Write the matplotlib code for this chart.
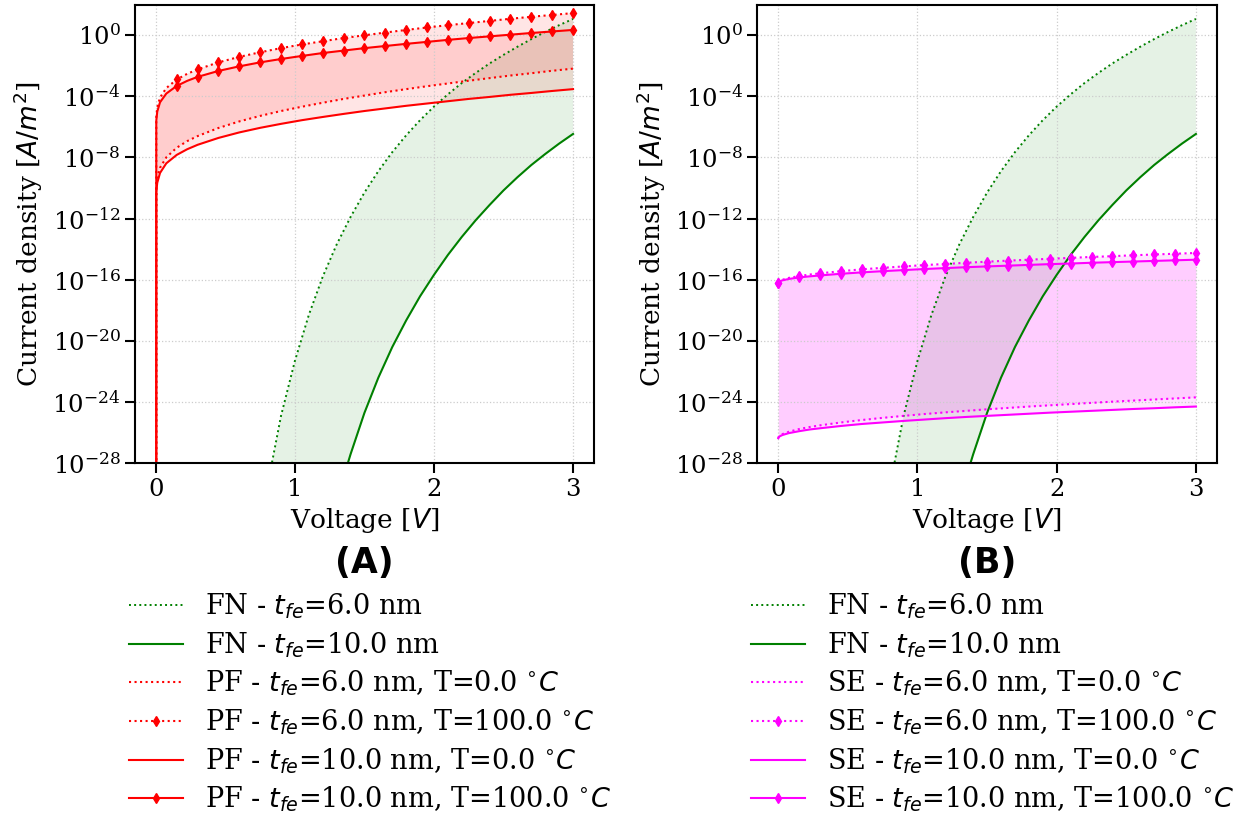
import numpy as np
import matplotlib
matplotlib.use("Agg")
import matplotlib.pyplot as plt

plt.rcParams['font.family'] = ['DejaVu Serif']
plt.rcParams['mathtext.fontset'] = 'dejavusans'

# ---------------- data (log10 of current density, A/m^2) ----------------
# voltage grid for PF / SE curves
V = [0.0, 0.003, 0.01, 0.03, 0.075, 0.15, 0.225, 0.30, 0.45, 0.60, 0.75, 0.90,
     1.05, 1.20, 1.35, 1.50, 1.65, 1.80, 1.95, 2.10, 2.25, 2.40, 2.55, 2.70,
     2.85, 3.00]

NEG = -np.inf  # J = 0 at V = 0

pf6_T0 = [NEG, -10.03, -9.37, -8.68, -8.00, -7.37, -6.94, -6.61, -6.08, -5.65,
          -5.29, -4.97, -4.69, -4.43, -4.18, -3.96, -3.74, -3.54, -3.35, -3.17,
          -2.99, -2.82, -2.65, -2.50, -2.34, -2.20]
pf6_T100 = [NEG, -5.36, -4.73, -4.09, -3.47, -2.91, -2.54, -2.25, -1.79, -1.43,
            -1.13, -0.86, -0.62, -0.41, -0.20, -0.02, 0.16, 0.33, 0.49, 0.64,
            0.78, 0.92, 1.06, 1.19, 1.31, 1.43]
pf10_T0 = [NEG, -10.28, -9.66, -9.02, -8.39, -7.84, -7.47, -7.18, -6.73, -6.37,
           -6.07, -5.81, -5.57, -5.36, -5.16, -4.97, -4.80, -4.63, -4.48, -4.33,
           -4.18, -4.05, -3.91, -3.79, -3.66, -3.54]
pf10_T100 = [NEG, -5.61, -5.01, -4.40, -3.83, -3.33, -3.00, -2.74, -2.35, -2.05,
             -1.79, -1.57, -1.37, -1.18, -1.02, -0.86, -0.72, -0.58, -0.45, -0.32,
             -0.20, -0.09, 0.02, 0.13, 0.23, 0.33]

se6_T0 = [-26.36, -26.28, -26.21, -26.09, -25.94, -25.76, -25.63, -25.52, -25.33,
          -25.17, -25.03, -24.90, -24.78, -24.67, -24.57, -24.47, -24.38, -24.29,
          -24.21, -24.13, -24.05, -23.97, -23.90, -23.83, -23.76, -23.69]
se6_T100 = [-16.19, -16.13, -16.08, -16.00, -15.88, -15.76, -15.66, -15.58, -15.44,
            -15.32, -15.22, -15.13, -15.04, -14.97, -14.89, -14.82, -14.75, -14.69,
            -14.63, -14.57, -14.51, -14.46, -14.40, -14.35, -14.30, -14.25]
se10_T0 = [-26.36, -26.29, -26.24, -26.15, -26.03, -25.90, -25.79, -25.71, -25.56,
           -25.43, -25.33, -25.23, -25.14, -25.05, -24.97, -24.90, -24.83, -24.76,
           -24.69, -24.63, -24.57, -24.51, -24.45, -24.40, -24.34, -24.29]
se10_T100 = [-16.19, -16.14, -16.10, -16.04, -15.95, -15.85, -15.78, -15.72, -15.61,
             -15.52, -15.44, -15.37, -15.30, -15.24, -15.18, -15.13, -15.08, -15.03,
             -14.98, -14.94, -14.89, -14.85, -14.81, -14.77, -14.73, -14.69]

# voltage grid for FN curves
V_fn = [0.8, 0.9, 1.0, 1.1, 1.2, 1.3, 1.4, 1.5, 1.6, 1.7, 1.8, 1.9, 2.0, 2.1,
        2.2, 2.3, 2.4, 2.5, 2.6, 2.7, 2.8, 2.9, 3.0]
fn6 = [-29.6, -24.9, -21.3, -18.3, -15.8, -13.7, -11.9, -10.3, -8.9, -7.66,
       -6.56, -5.57, -4.68, -3.88, -3.14, -2.48, -1.86, -1.30, -0.77, -0.27,
       0.20, 0.64, 1.05]
fn10 = [-56.4, -48.9, -42.9, -37.98, -33.87, -30.39, -27.41, -24.7, -22.4,
        -20.4, -18.66, -17.08, -15.68, -14.38, -13.2, -12.11, -11.11, -10.16,
        -9.3, -8.5, -7.78, -7.1, -6.47]

fn_labels = [r'FN - $t_{fe}$=6.0 nm', r'FN - $t_{fe}$=10.0 nm']
pf_labels = [r'PF - $t_{fe}$=6.0 nm, T=0.0 $^{\circ}C$',
             r'PF - $t_{fe}$=6.0 nm, T=100.0 $^{\circ}C$',
             r'PF - $t_{fe}$=10.0 nm, T=0.0 $^{\circ}C$',
             r'PF - $t_{fe}$=10.0 nm, T=100.0 $^{\circ}C$']
se_labels = [l.replace('PF', 'SE') for l in pf_labels]
panel_titles = ['(A)', '(B)']
yticks_exp = list(range(-28, 1, 4))

# ---------------- plotting ----------------
W, H = 1240, 818
fig = plt.figure(figsize=(W / 100, H / 100), dpi=100)

ax_px = [(135.0, 5.0, 458.9, 458.3), (757.4, 5.0, 459.4, 458.3)]
axes = []
for (l, t, w, h) in ax_px:
    axes.append(fig.add_axes([l / W, 1 - (t + h) / H, w / W, h / H]))

Varr = np.array(V)
mark_idx = [i for i, v in enumerate(V) if abs(v / 0.15 - round(v / 0.15)) < 1e-6]

def J(a):
    return np.power(10.0, np.array(a, dtype=float))

lw = 1.5
ms = 5.5

def draw_fn(ax):
    ax.plot(V_fn, J(fn6), ':', color='green', lw=1.4, label=fn_labels[0])
    ax.plot(V_fn, J(fn10), '-', color='green', lw=lw, label=fn_labels[1])
    ax.fill_between(V_fn, J(fn10), J(fn6), color='green', alpha=0.1, lw=0)

def draw_pair(ax, c, labels, a6T0, a6T100, a10T0, a10T100):
    ax.plot(Varr, J(a6T0), ':', color=c, lw=lw, label=labels[0])
    ax.plot(Varr, J(a6T100), ':', color=c, lw=lw, marker='d', ms=ms,
            markevery=mark_idx, label=labels[1])
    ax.plot(Varr, J(a10T0), '-', color=c, lw=lw, label=labels[2])
    ax.plot(Varr, J(a10T100), '-', color=c, lw=lw, marker='d', ms=ms,
            markevery=mark_idx, label=labels[3])
    ax.fill_between(Varr, J(a6T0), J(a6T100), color=c, alpha=0.1, lw=0)
    ax.fill_between(Varr, J(a10T0), J(a10T100), color=c, alpha=0.1, lw=0)

draw_fn(axes[0])
draw_pair(axes[0], 'red', pf_labels, pf6_T0, pf6_T100, pf10_T0, pf10_T100)
draw_fn(axes[1])
draw_pair(axes[1], 'magenta', se_labels, se6_T0, se6_T100, se10_T0, se10_T100)

tick_fs = 17.5
lab_fs = 19
leg_fs = 19.5
for k, ax in enumerate(axes):
    ax.set_yscale('log')
    ax.set_ylim(1e-28, 10 ** 1.96)
    ax.set_xlim(-0.15, 3.15)
    ax.set_yticks([10.0 ** e for e in yticks_exp])
    ax.minorticks_off()
    ax.set_xticks([0, 1, 2, 3])
    ax.grid(True, color='#cccccc', linestyle=':', linewidth=0.9)
    ax.tick_params(labelsize=tick_fs, length=7, width=1.5)
    for s in ax.spines.values():
        s.set_linewidth(1.5)
    ax.set_xlabel(r'Voltage [$V$]', fontsize=lab_fs, labelpad=4)
    ax.set_ylabel(r'Current density [$A/m^2$]', fontsize=lab_fs, labelpad=5)
    ax.text(0.5, -0.218, panel_titles[k], transform=ax.transAxes, ha='center',
            va='center', fontsize=25, fontweight='bold', family='DejaVu Sans')
    ax.legend(loc='upper left',
              bbox_to_anchor=((ax_px[k][0] - 17) / W, 1 - 581 / H),
              bbox_transform=fig.transFigure, frameon=False, fontsize=leg_fs,
              borderaxespad=0, labelspacing=0.334)

fig.savefig('out.png', dpi=100)
